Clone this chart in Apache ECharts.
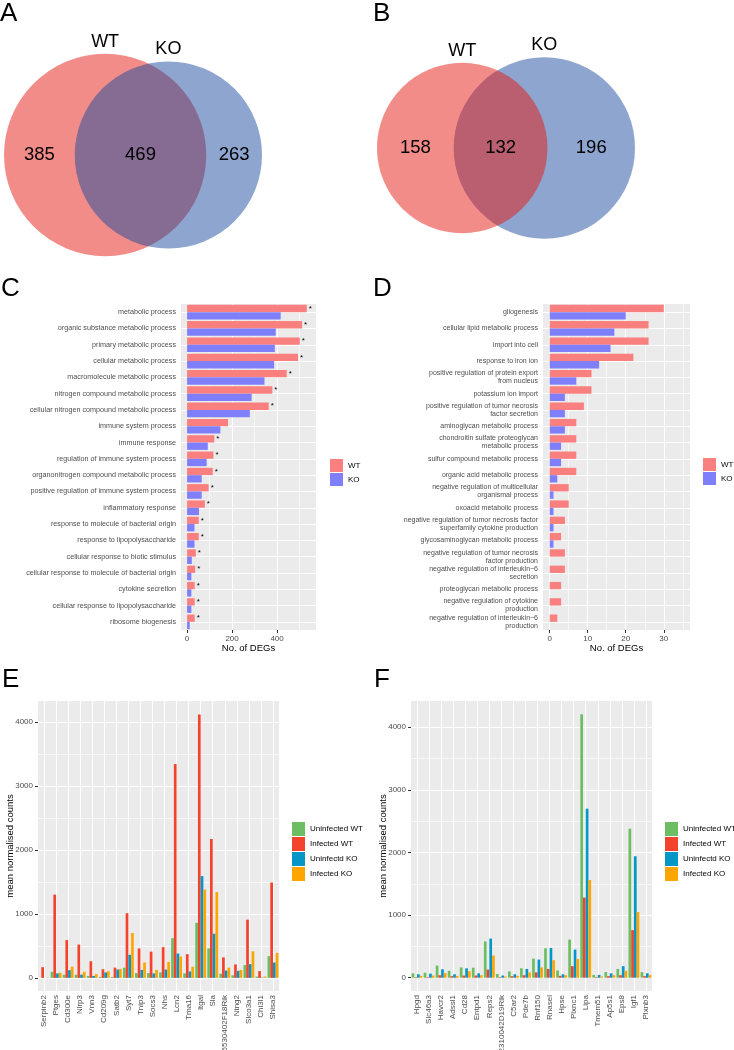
<!DOCTYPE html>
<html>
<head>
<meta charset="utf-8">
<script src="https://cdn.jsdelivr.net/npm/echarts@6/dist/echarts.min.js"></script>
<style>
  body { margin: 0; background: #fff; }
  #fig { width: 734px; height: 1050px; }
</style>
</head>
<body>
<div id="fig"></div>
<script>
// Venn counts: [WT only, both, KO only]
var vennA = [385, 469, 263]
var vennB = [158, 132, 196]
var vennSets = ['WT', 'KO']

// C: GO terms, number of DEGs
var goCTerms = ['metabolic process', 'organic substance metabolic process', 'primary metabolic process',
  'cellular metabolic process', 'macromolecule metabolic process', 'nitrogen compound metabolic process',
  'cellular nitrogen compound metabolic process', 'immune system process', 'immune response',
  'regulation of immune system process', 'organonitrogen compound metabolic process',
  'positive regulation of immune system process', 'inflammatory response',
  'response to molecule of bacterial origin', 'response to lipopolysaccharide',
  'cellular response to biotic stimulus', 'cellular response to molecule of bacterial origin',
  'cytokine secretion', 'cellular response to lipopolysaccharide', 'ribosome biogenesis']
var goCWT = [532, 511, 501, 493, 443, 379, 363, 182, 121, 117, 114, 96, 79, 52, 52, 39, 36, 34, 34, 34]
var goCKO = [416, 394, 390, 387, 344, 287, 279, 148, 92, 87, 65, 65, 53, 33, 33, 21, 19, 19, 19, 12]
var goCStar = [1, 1, 1, 1, 1, 1, 1, 0, 1, 1, 1, 1, 1, 1, 1, 1, 1, 1, 1, 1]
var goCTicks = [0, 200, 400]
var goCMinor = [100, 300, 500]

// D
var goDTerms = ['gliogenesis', 'cellular lipid metabolic process', 'import into cell', 'response to iron ion',
  'positive regulation of protein export\nfrom nucleus', 'potassium ion import',
  'positive regulation of tumor necrosis\nfactor secretion', 'aminoglycan metabolic process',
  'chondroitin sulfate proteoglycan\nmetabolic process', 'sulfur compound metabolic process',
  'organic acid metabolic process', 'negative regulation of multicellular\norganismal process',
  'oxoacid metabolic process', 'negative regulation of tumor necrosis factor\nsuperfamily cytokine production',
  'glycosaminoglycan metabolic process', 'negative regulation of tumor necrosis\nfactor production',
  'negative regulation of interleukin−6\nsecretion', 'proteoglycan metabolic process',
  'negative regulation of cytokine\nproduction', 'negative regulation of interleukin−6\nproduction']
var goDWT = [30, 26, 26, 22, 11, 11, 9, 7, 7, 7, 7, 5, 5, 4, 3, 4, 4, 3, 3, 2]
var goDKO = [20, 17, 16, 13, 7, 4, 4, 4, 3, 3, 2, 1, 1, 1, 1, 0, 0, 0, 0, 0]
var goDTicks = [0, 10, 20, 30]
var goDMinor = [5, 15, 25, 35]

// E / F: mean normalised counts
var groups = ['Uninfected WT', 'Infected WT', 'Uninfectd KO', 'Infected KO']
var eGenes = ['Serpinb2', 'Ptges', 'Cd300e', 'Nlrp3', 'Vnn3', 'Cd209g', 'Satb2', 'Syt7', 'Tnip3', 'Socs3',
  'Nhs', 'Lcn2', 'Tma16', 'Itgal', 'Sla', '6530402F18Rik', 'Ntng2', 'Slco3a1', 'Chi3l1', 'Shisa3']
var eUninfWT = [0, 95, 50, 50, 30, 15, 15, 160, 75, 75, 85, 620, 70, 860, 460, 65, 40, 200, 20, 340]
var eInfWT = [167, 1300, 590, 520, 260, 135, 160, 1010, 460, 410, 480, 3340, 370, 4115, 2170, 320, 210, 910, 105, 1490]
var eUninfKO = [0, 70, 120, 50, 30, 85, 130, 360, 125, 70, 130, 380, 100, 1590, 690, 115, 110, 215, 5, 240]
var eInfKO = [5, 80, 175, 95, 60, 105, 140, 700, 240, 125, 250, 335, 175, 1380, 1340, 160, 125, 415, 20, 390]

var fGenes = ['Hpgd', 'Slc46a3', 'Havcr2', 'Adssl1', 'Cd28', 'Entpd1', 'Reps2', '2310042D19Rik', 'C5ar2', 'Pde7b',
  'Rnf150', 'Rnasel', 'Hpse', 'Plxnc1', 'Lipa', 'Tmem51', 'Ap5s1', 'Eps8', 'Igf1', 'Plxnb3']
var fUninfWT = [70, 80, 195, 110, 165, 160, 580, 60, 100, 150, 305, 470, 115, 610, 4210, 45, 90, 140, 2380, 90]
var fInfWT = [10, 10, 40, 25, 35, 35, 130, 10, 25, 40, 85, 140, 30, 185, 1280, 10, 25, 40, 760, 25]
var fUninfKO = [55, 65, 135, 55, 150, 70, 625, 35, 55, 140, 290, 475, 55, 450, 2700, 45, 70, 185, 1940, 70]
var fInfKO = [30, 35, 75, 30, 105, 40, 355, 20, 30, 85, 165, 280, 40, 300, 1560, 20, 40, 110, 1050, 40]
var countTicks = [0, 1000, 2000, 3000, 4000]
var countMinor = [500, 1500, 2500, 3500]

var FONT = 'Liberation Sans, Arial, Helvetica, sans-serif'
var WT_BAR = '#FA7F7F'
var KO_BAR = '#7F7FFB'
var groupColors = ['#6DBE63', '#F4432C', '#0596C8', '#FFA500']

// ---- Venn (area-proportional) ----
function lensArea(r1, r2, d) {
  if (d >= r1 + r2) return 0
  if (d <= Math.abs(r1 - r2)) return Math.PI * Math.pow(Math.min(r1, r2), 2)
  var a1 = Math.acos((d * d + r1 * r1 - r2 * r2) / (2 * d * r1))
  var a2 = Math.acos((d * d + r2 * r2 - r1 * r1) / (2 * d * r2))
  var k = Math.sqrt((-d + r1 + r2) * (d + r1 - r2) * (d - r1 + r2) * (d + r1 + r2))
  return r1 * r1 * a1 + r2 * r2 * a2 - 0.5 * k
}

function vennElements(counts, x0, width, cy, redOnTop) {
  var r1 = Math.sqrt((counts[0] + counts[1]) / Math.PI)
  var r2 = Math.sqrt((counts[2] + counts[1]) / Math.PI)
  var lo = Math.abs(r1 - r2), hi = r1 + r2
  for (var i = 0; i < 60; i++) {
    var mid = (lo + hi) / 2
    if (lensArea(r1, r2, mid) > counts[1]) lo = mid
    else hi = mid
  }
  var d = (lo + hi) / 2
  var s = width / (r1 + r2 + d)
  var R1 = r1 * s, R2 = r2 * s
  var c1 = x0 + R1, c2 = x0 + (r1 + d) * s
  var wt = { type: 'circle', shape: { cx: c1, cy: cy, r: R1 }, style: { fill: 'rgba(229,25,17,0.5)' } }
  var ko = { type: 'circle', shape: { cx: c2, cy: cy, r: R2 }, style: { fill: 'rgba(27,75,159,0.5)' } }
  var els = redOnTop ? [ko, wt] : [wt, ko]
  function txt(t, x, y, size) {
    return { type: 'text', x: x, y: y, z: 10,
      style: { text: t, fill: '#000', fontSize: size, fontFamily: FONT,
        align: 'center', verticalAlign: 'middle', textAlign: 'center', textVerticalAlign: 'middle' } }
  }
  els.push(txt(vennSets[0], c1, cy - R1 - 12, 18))
  els.push(txt(vennSets[1], c2, cy - R2 - 12, 18))
  els.push(txt(String(counts[0]), (c1 - R1 + c2 - R2) / 2, cy, 18.5))
  els.push(txt(String(counts[1]), (c2 - R2 + c1 + R1) / 2, cy, 18.5))
  els.push(txt(String(counts[2]), (c1 + R1 + c2 + R2) / 2, cy, 18.5))
  return els
}

function panelLetter(t, x, y) {
  return { type: 'text', x: x, y: y,
    style: { text: t, fill: '#000', fontSize: 26, fontFamily: FONT,
      align: 'left', verticalAlign: 'middle', textAlign: 'left', textVerticalAlign: 'middle' } }
}

var graphics = []
  .concat(vennElements(vennA, 4, 258, 155, false))
  .concat(vennElements(vennB, 377, 258, 148, true))
  .concat([panelLetter('A', 0, 14), panelLetter('B', 373, 14), panelLetter('C', 1, 289),
    panelLetter('D', 373, 289), panelLetter('E', 2, 680), panelLetter('F', 374, 680)])

// ---- axis helpers ----
var tickColor = '#333333'
var labelColor = '#4D4D4D'

function catAxis(gridIndex, data, horizontal, labelOpt) {
  return {
    type: 'category', gridIndex: gridIndex, data: data, inverse: !horizontal,
    axisLine: { show: false },
    axisTick: { alignWithLabel: true, interval: 0, length: 3, lineStyle: { color: tickColor } },
    axisLabel: Object.assign({ interval: 0, color: labelColor, fontFamily: FONT }, labelOpt),
    splitLine: { show: true, alignWithLabel: true, interval: 0, lineStyle: { color: '#fff', width: 1 } }
  }
}

function valAxis(gridIndex, min, max, ticks, name, nameGap) {
  return {
    type: 'value', gridIndex: gridIndex, min: min, max: max,
    axisLine: { show: false },
    axisTick: { show: true, customValues: ticks, length: 3, lineStyle: { color: tickColor } },
    axisLabel: { customValues: ticks, fontSize: 8, color: labelColor, fontFamily: FONT, margin: 5,
      formatter: function (v) { return String(v) } },
    splitLine: { show: true, lineStyle: { color: '#fff', width: 1.1 } },
    name: name, nameLocation: 'middle', nameGap: nameGap, nameMoveOverlap: false,
    nameTextStyle: { fontSize: 9.5, color: '#000', fontFamily: FONT }
  }
}

function minorAxis(gridIndex, min, max, ticks) {
  return {
    type: 'value', gridIndex: gridIndex, min: min, max: max,
    axisLine: { show: false },
    axisTick: { show: false, customValues: ticks },
    axisLabel: { show: false, customValues: ticks },
    splitLine: { show: true, lineStyle: { color: '#fff', width: 0.6 } }
  }
}

function gridBox(left, top, width, height) {
  return { left: left, top: top, width: width, height: height, show: true,
    backgroundColor: '#EBEBEB', borderWidth: 0, outerBoundsMode: 'none', containLabel: false }
}

function legendBox(names, left, top, h) {
  return { data: names, orient: 'vertical', left: left, top: top, icon: 'rect', padding: 0,
    itemWidth: 13, itemHeight: h, itemGap: 1, selectedMode: false,
    textStyle: { fontSize: 8, color: '#000', fontFamily: FONT, overflow: 'none' } }
}

function groupSeries(xi, yi, lists) {
  return lists.map(function (vals, i) {
    return { type: 'bar', name: groups[i], xAxisIndex: xi, yAxisIndex: yi, data: vals,
      barGap: '0%', barCategoryGap: '10%', itemStyle: { color: groupColors[i] } }
  })
}

var chart = echarts.init(document.getElementById('fig'))
chart.setOption({
  animation: false,
  textStyle: { fontFamily: FONT },
  graphic: graphics,
  grid: [
    gridBox(181, 304, 135, 326),
    gridBox(543, 304, 147, 326),
    gridBox(38, 701, 241, 290),
    gridBox(411, 701, 241, 290)
  ],
  legend: [
    legendBox(['WT', 'KO'], 330, 459, 13),
    legendBox(['WT', 'KO'], 703, 458, 13),
    legendBox(groups, 292, 822, 14),
    legendBox(groups, 665, 822, 14)
  ],
  xAxis: [
    valAxis(0, -27, 573, goCTicks, 'No. of DEGs', 13),
    minorAxis(0, -27, 573, goCMinor),
    valAxis(1, -1.76, 36.9, goDTicks, 'No. of DEGs', 13),
    minorAxis(1, -1.76, 36.9, goDMinor),
    catAxis(2, eGenes, true, { rotate: 90, margin: 4, fontSize: 8 }),
    catAxis(3, fGenes, true, { rotate: 90, margin: 4, fontSize: 8 })
  ],
  yAxis: [
    catAxis(0, goCTerms, false, { margin: 5, fontSize: 7.2 }),
    catAxis(1, goDTerms, false, { margin: 5, fontSize: 7, lineHeight: 8 }),
    valAxis(2, -205, 4325, countTicks, 'mean normalised counts', 23),
    minorAxis(2, -205, 4325, countMinor),
    valAxis(3, -212, 4420, countTicks, 'mean normalised counts', 23),
    minorAxis(3, -212, 4420, countMinor)
  ],
  series: [
    { type: 'bar', name: 'WT', xAxisIndex: 0, yAxisIndex: 0, data: goCWT, barGap: '0%', barCategoryGap: '10%',
      itemStyle: { color: WT_BAR },
      label: { show: true, position: 'right', distance: 2, fontSize: 8, color: '#000',
        formatter: function (p) { return goCStar[p.dataIndex] ? '*' : '' } } },
    { type: 'bar', name: 'KO', xAxisIndex: 0, yAxisIndex: 0, data: goCKO, barGap: '0%', barCategoryGap: '10%',
      itemStyle: { color: KO_BAR } },
    { type: 'bar', name: 'WT', xAxisIndex: 2, yAxisIndex: 1, data: goDWT, barGap: '0%', barCategoryGap: '10%',
      itemStyle: { color: WT_BAR } },
    { type: 'bar', name: 'KO', xAxisIndex: 2, yAxisIndex: 1, data: goDKO, barGap: '0%', barCategoryGap: '10%',
      itemStyle: { color: KO_BAR } }
  ]
    .concat(groupSeries(4, 2, [eUninfWT, eInfWT, eUninfKO, eInfKO]))
    .concat(groupSeries(5, 4, [fUninfWT, fInfWT, fUninfKO, fInfKO]))
})
</script>
</body>
</html>
